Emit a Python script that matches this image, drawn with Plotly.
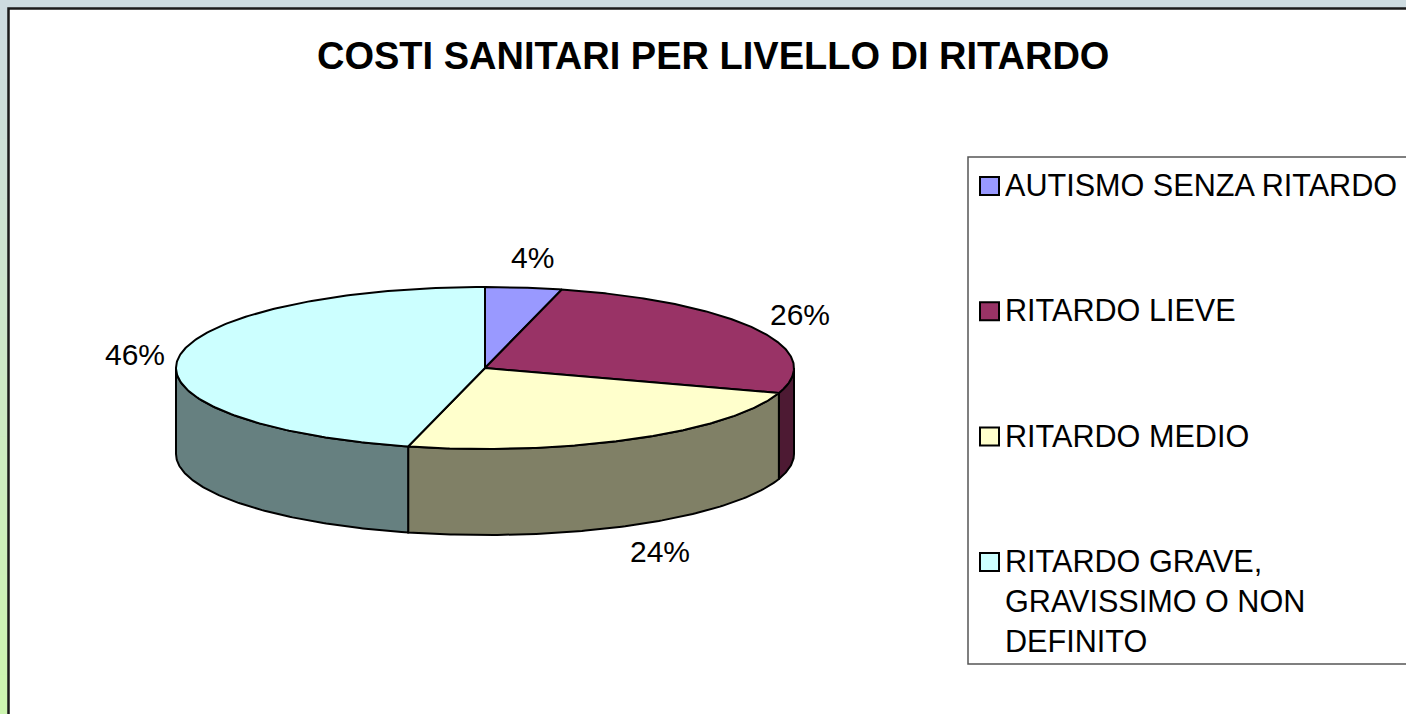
import numpy as np
import plotly.graph_objects as go

# ---------------- data ----------------
categories = [
    "AUTISMO SENZA RITARDO",
    "RITARDO LIEVE",
    "RITARDO MEDIO",
    "RITARDO GRAVE, GRAVISSIMO O NON DEFINITO",
]
legend_labels = [
    "AUTISMO SENZA RITARDO",
    "RITARDO LIEVE",
    "RITARDO MEDIO",
    "RITARDO GRAVE,<br>GRAVISSIMO O NON<br>DEFINITO",
]
values = [4, 26, 24, 46]
title_text = "COSTI SANITARI PER LIVELLO DI RITARDO"

# ---------------- styles ----------------
top_colors = ["#9999FF", "#993366", "#FFFFCC", "#CCFFFF"]
side_colors = ["#4D4D80", "#4D1A33", "#808066", "#668080"]
FONT = "Liberation Sans, Arial, sans-serif"

W, H = 1406, 714
cx, cy = 485, 368          # centre of top ellipse (pixel axes)
a, b = 309, 81             # ellipse semi axes
depth = 86                 # thickness of the 3D pie


def rim(theta_deg, dy=0.0):
    t = np.radians(theta_deg)
    return cx + a * np.sin(t), cy - b * np.cos(t) + dy


vals = np.array(values, dtype=float)
fr = vals / vals.sum()
ends = np.cumsum(fr) * 360.0
starts = ends - fr * 360.0

fig = go.Figure()

# side walls (visible front half only: 90..270 deg clockwise from top)
for i in range(len(values)):
    s, e = max(starts[i], 90.0), min(ends[i], 270.0)
    if s >= e:
        continue
    th = np.linspace(s, e, 120)
    xt, yt = rim(th)
    xb, yb = rim(th[::-1], depth)
    xs = np.concatenate([xt, xb, xt[:1]])
    ys = np.concatenate([yt, yb, yt[:1]])
    fig.add_trace(go.Scatter(x=xs, y=ys, mode="lines", fill="toself",
                             fillcolor=side_colors[i],
                             line=dict(color="black", width=2),
                             hoverinfo="skip", showlegend=False))

# top faces
for i in range(len(values)):
    th = np.linspace(starts[i], ends[i], 200)
    xt, yt = rim(th)
    xs = np.concatenate([[cx], xt, [cx]])
    ys = np.concatenate([[cy], yt, [cy]])
    fig.add_trace(go.Scatter(x=xs, y=ys, mode="lines", fill="toself",
                             fillcolor=top_colors[i],
                             line=dict(color="black", width=2),
                             name=categories[i],
                             hoverinfo="skip", showlegend=False))

annotations = []
# percentage labels
for i in range(len(values)):
    mid = (starts[i] + ends[i]) / 2
    t = np.radians(mid)
    dy = depth if np.cos(t) < 0 else 0
    lx = cx + (a + 47) * np.sin(t) + 3
    ly = cy - (b + 30) * np.cos(t) + dy
    annotations.append(dict(x=lx, y=ly, xref="x", yref="y",
                            text=f"{values[i]:.0f}%", showarrow=False,
                            xanchor="center", yanchor="middle",
                            font=dict(family=FONT, size=30, color="black")))

# title
annotations.append(dict(x=713, y=56, xref="x", yref="y", text=f"<b>{title_text}</b>",
                        showarrow=False, xanchor="center", yanchor="middle",
                        font=dict(family=FONT, size=38, color="black")))

shapes = []
# outer frame gradient (left strip) and top strip
top_rgb = np.array([205, 219, 224])
bot_rgb = np.array([205, 245, 176])
nstrip = 36
for k in range(nstrip):
    f = k / (nstrip - 1)
    c = (top_rgb * (1 - f) + bot_rgb * f).astype(int)
    shapes.append(dict(type="rect", xref="x", yref="y", layer="below",
                       x0=0, x1=8, y0=k * H / nstrip, y1=(k + 1) * H / nstrip + 1,
                       fillcolor=f"rgb({c[0]},{c[1]},{c[2]})", line=dict(width=0)))
shapes.append(dict(type="rect", xref="x", yref="y", layer="below",
                   x0=0, x1=W, y0=0, y1=8, fillcolor="rgb(205,219,224)", line=dict(width=0)))
# white chart area with dark border
shapes.append(dict(type="rect", xref="x", yref="y", layer="below",
                   x0=8.5, x1=W + 10, y0=8.5, y1=H + 10, fillcolor="white",
                   line=dict(color="#1a1a1a", width=2.5)))

# legend (drawn from categories / colours)
leg_left, leg_top, leg_bottom = 968, 157, 664
shapes.append(dict(type="rect", xref="x", yref="y", layer="above",
                   x0=leg_left, x1=W + 10, y0=leg_top, y1=leg_bottom,
                   line=dict(color="#555555", width=1.5)))
row0, row_gap = 186, 125.3
for i in range(len(categories)):
    yc = row0 + i * row_gap
    shapes.append(dict(type="rect", xref="x", yref="y", layer="above",
                       x0=980, x1=999, y0=yc - 9, y1=yc + 9,
                       fillcolor=top_colors[i], line=dict(color="black", width=2)))
    annotations.append(dict(x=1003, y=yc - 20, xref="x", yref="y",
                            text=legend_labels[i], showarrow=False,
                            xanchor="left", yanchor="top", align="left",
                            font=dict(family=FONT, size=30.6, color="black")))

fig.update_layout(
    width=W, height=H,
    margin=dict(l=0, r=0, t=0, b=0),
    paper_bgcolor="rgb(205,219,224)",
    plot_bgcolor="rgb(205,219,224)",
    xaxis=dict(range=[0, W], visible=False, fixedrange=True, domain=[0, 1]),
    yaxis=dict(range=[H, 0], visible=False, fixedrange=True, domain=[0, 1]),
    shapes=shapes,
    annotations=annotations,
    showlegend=False,
    hovermode=False,
)

fig.write_html("out.html",
               config={"displayModeBar": False},
               post_script="document.body.style.margin='0';document.body.style.overflow='hidden';")
